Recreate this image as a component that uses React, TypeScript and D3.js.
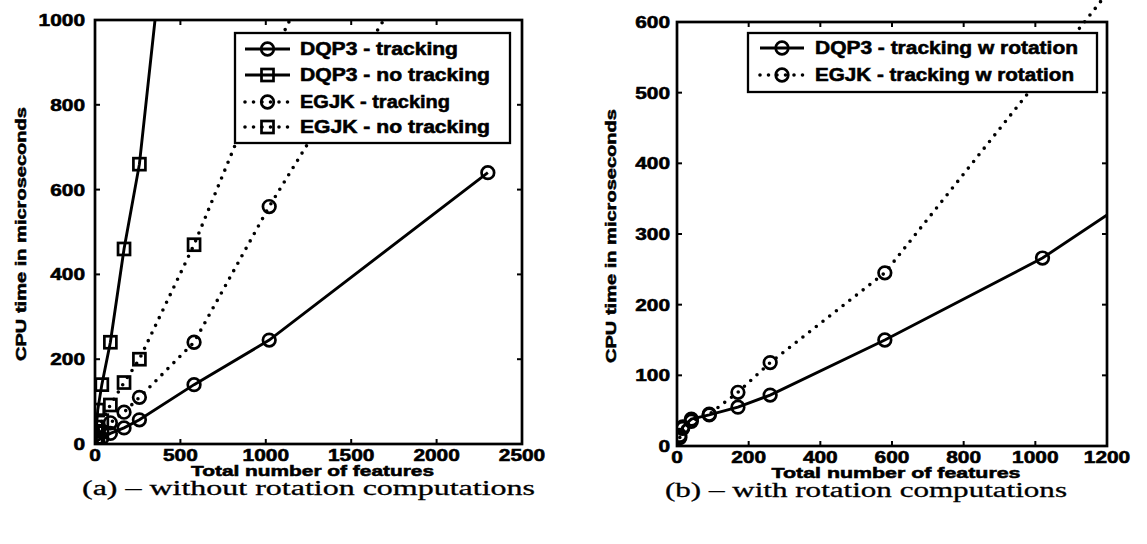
import React from "react";
import * as d3 from "d3";

// ---------- data ----------
const featuresA = [8, 16, 40, 90, 170, 260, 580, 1020, 2300];
const dqp3TrackingA = [4, 8, 14, 25, 38, 57, 140, 245, 640];
const dqp3NoTrackingA = [40, 80, 140, 240, 460, 660, 1850];
const egjkTrackingA = [8, 15, 30, 50, 75, 110, 240, 560, 1400];
const egjkNoTrackingA = [15, 30, 55, 92, 145, 200, 470, 900, 1960];

const featuresB = [8, 16, 40, 90, 170, 260, 580, 1020, 2300];
const dqp3RotB = [15, 27, 38, 44, 55, 72, 150, 266, 700];
const egjkRotB = [12, 25, 35, 45, 76, 118, 245, 525, 1345];

const xTicksA = [0, 500, 1000, 1500, 2000, 2500];
const yTicksA = [0, 200, 400, 600, 800, 1000];
const xTicksB = [0, 200, 400, 600, 800, 1000, 1200];
const yTicksB = [0, 100, 200, 300, 400, 500, 600];

const legendA = ["DQP3 - tracking", "DQP3 - no tracking", "EGJK - tracking", "EGJK - no tracking"];
const legendB = ["DQP3 - tracking w rotation", "EGJK - tracking w rotation"];

const xLabel = "Total number of features";
const yLabel = "CPU time in microseconds";
const captionA = "(a) \u2013 without rotation computations";
const captionB = "(b) \u2013 with rotation computations";

const SANS = "'Liberation Sans', Arial, sans-serif";
const SERIF = "'Liberation Serif', 'Times New Roman', serif";

type Series = { xs: number[]; ys: number[]; marker: "circle" | "square"; dotted: boolean };

function Marker({ kind, x, y }: { kind: string; x: number; y: number }) {
  if (kind === "circle")
    return <circle cx={x} cy={y} r={6.3} fill="none" stroke="#000" strokeWidth={2.7} />;
  return <rect x={x - 6} y={y - 6} width={12} height={12} fill="none" stroke="#000" strokeWidth={2.7} />;
}

function lineStyle(dotted: boolean) {
  return dotted
    ? { strokeDasharray: "0 8.5", strokeLinecap: "round" as const, strokeWidth: 3.6 }
    : { strokeWidth: 2.9 };
}

const heavy = { stroke: "#000", strokeWidth: 0.55 };

function Panel(props: {
  id: string;
  x0: number; y0: number; x1: number; y1: number;
  xMax: number; yMax: number;
  xTicks: number[]; yTicks: number[];
  series: Series[];
  legend: string[];
  lg: { x0: number; y0: number; x1: number; y1: number; rows: number[]; lx0: number; lx1: number; tx: number; tw: number[] };
  clipTop: number;
  yLabelX: number; tickGap: number;
  xLabelW: number; caption: string; capX: number; capW: number;
}) {
  const { x0, y0, x1, y1 } = props;
  const xs = d3.scaleLinear().domain([0, props.xMax]).range([x0, x1]);
  const ys = d3.scaleLinear().domain([0, props.yMax]).range([y1, y0]);
  const line = d3.line<[number, number]>().x(d => xs(d[0])).y(d => ys(d[1]));
  const clipId = "clip-" + props.id;
  const lg = props.lg;
  const tickW = (t: number) => String(t).length * 11.6;
  return (
    <g>
      <defs>
        <clipPath id={clipId}>
          <rect x={x0} y={props.clipTop} width={x1 - x0} height={y1 - props.clipTop} />
        </clipPath>
      </defs>
      <g clipPath={`url(#${clipId})`}>
        {props.series.map((s, i) => {
          const pts = s.xs.slice(0, s.ys.length).map((x, j) => [x, s.ys[j]] as [number, number]);
          return (
            <g key={i}>
              <path d={line(pts) || ""} fill="none" stroke="#000" {...lineStyle(s.dotted)} />
              {pts.map((p, j) => (
                <Marker key={j} kind={s.marker} x={xs(p[0])} y={ys(p[1])} />
              ))}
            </g>
          );
        })}
      </g>
      {/* frame */}
      <rect x={x0} y={y0} width={x1 - x0} height={y1 - y0} fill="none" stroke="#000" strokeWidth={2.7} />
      {props.xTicks.map(t => (
        <g key={"xt" + t}>
          <line x1={xs(t)} x2={xs(t)} y1={y1} y2={y1 - 5} stroke="#000" strokeWidth={2} />
          <line x1={xs(t)} x2={xs(t)} y1={y0} y2={y0 + 5} stroke="#000" strokeWidth={2} />
          <text x={xs(t)} y={y1 + 17} textAnchor="middle" fontFamily={SANS} fontWeight={700} fontSize={16}
            textLength={tickW(t)} lengthAdjust="spacingAndGlyphs" {...heavy}>
            {t}
          </text>
        </g>
      ))}
      {props.yTicks.map(t => (
        <g key={"yt" + t}>
          <line x1={x0} x2={x0 + 5} y1={ys(t)} y2={ys(t)} stroke="#000" strokeWidth={2} />
          <line x1={x1} x2={x1 - 5} y1={ys(t)} y2={ys(t)} stroke="#000" strokeWidth={2} />
          <text x={x0 - props.tickGap} y={ys(t) + 6} textAnchor="end" fontFamily={SANS} fontWeight={700} fontSize={16}
            textLength={tickW(t)} lengthAdjust="spacingAndGlyphs" {...heavy}>
            {t}
          </text>
        </g>
      ))}
      {/* axis labels */}
      <text x={(x0 + x1) / 2 + 4} y={y1 + 32} textAnchor="middle" fontFamily={SANS} fontWeight={700} fontSize={15}
        textLength={props.xLabelW} lengthAdjust="spacingAndGlyphs" {...heavy}>
        {xLabel}
      </text>
      <text transform={`translate(${props.yLabelX},${(y0 + y1) / 2 + 2}) rotate(-90)`} textAnchor="middle"
        fontFamily={SANS} fontWeight={700} fontSize={15.5} textLength={254} lengthAdjust="spacingAndGlyphs" {...heavy}>
        {yLabel}
      </text>
      <text x={props.capX} y={y1 + 51} fontFamily={SERIF} fontSize={20.5} textLength={props.capW} lengthAdjust="spacingAndGlyphs"
        stroke="#000" strokeWidth={0.3}>
        {props.caption}
      </text>
      {/* legend */}
      <rect x={lg.x0} y={lg.y0} width={lg.x1 - lg.x0} height={lg.y1 - lg.y0} fill="#fff" stroke="#000" strokeWidth={2.3} />
      {props.legend.map((name, i) => {
        const s = props.series[i];
        const yy = lg.rows[i];
        return (
          <g key={name}>
            <line x1={lg.lx0} x2={lg.lx1} y1={yy} y2={yy} stroke="#000" {...lineStyle(s.dotted)} />
            <Marker kind={s.marker} x={(lg.lx0 + lg.lx1) / 2} y={yy} />
            <text x={lg.tx} y={yy + 6} fontFamily={SANS} fontWeight={700} fontSize={17.5}
              textLength={lg.tw[i]} lengthAdjust="spacingAndGlyphs" {...heavy}>
              {name}
            </text>
          </g>
        );
      })}
    </g>
  );
}

export default function App() {
  const seriesA: Series[] = [
    { xs: featuresA, ys: dqp3TrackingA, marker: "circle", dotted: false },
    { xs: featuresA, ys: dqp3NoTrackingA, marker: "square", dotted: false },
    { xs: featuresA, ys: egjkTrackingA, marker: "circle", dotted: true },
    { xs: featuresA, ys: egjkNoTrackingA, marker: "square", dotted: true },
  ];
  const seriesB: Series[] = [
    { xs: featuresB, ys: dqp3RotB, marker: "circle", dotted: false },
    { xs: featuresB, ys: egjkRotB, marker: "circle", dotted: true },
  ];
  return (
    <svg width={1147} height={544} style={{ position: "absolute", left: 0, top: 0, background: "#fff" }}>
      <rect x={0} y={0} width={1147} height={544} fill="#fff" />
      <Panel
        id="a" x0={95} y0={20} x1={522} y1={444} xMax={2500} yMax={1000}
        xTicks={xTicksA} yTicks={yTicksA} series={seriesA} legend={legendA}
        lg={{ x0: 235, y0: 33, x1: 510, y1: 143, rows: [49, 75, 102, 127], lx0: 245, lx1: 290, tx: 300, tw: [158, 190, 150, 190] }}
        clipTop={20} yLabelX={26} tickGap={10}
        xLabelW={243} caption={captionA} capX={82} capW={453}
      />
      <Panel
        id="b" x0={677} y0={22} x1={1107} y1={446} xMax={1200} yMax={600}
        xTicks={xTicksB} yTicks={yTicksB} series={seriesB} legend={legendB}
        lg={{ x0: 748, y0: 33, x1: 1097, y1: 92, rows: [48, 75], lx0: 760, lx1: 804, tx: 815, tw: [263, 259] }}
        clipTop={-100} yLabelX={616} tickGap={7}
        xLabelW={249} caption={captionB} capX={665} capW={402}
      />
    </svg>
  );
}
